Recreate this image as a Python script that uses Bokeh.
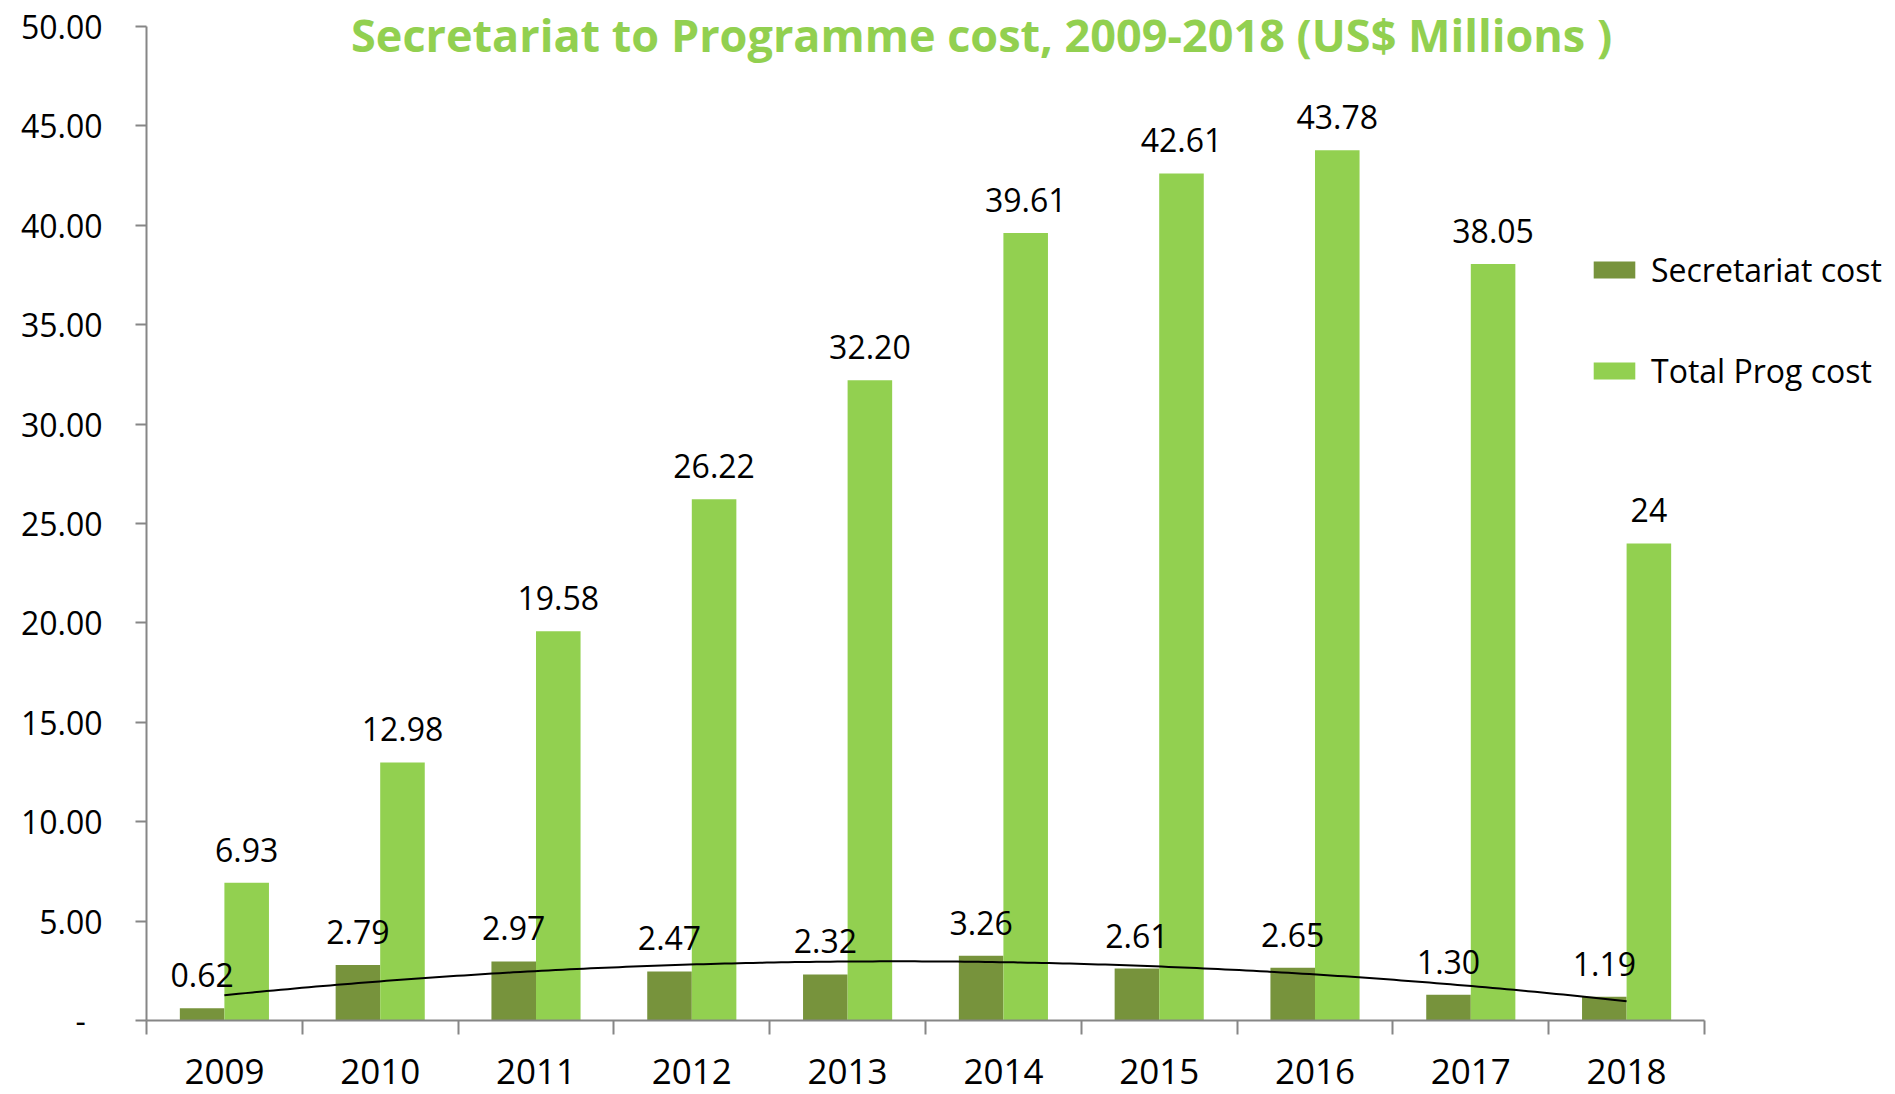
import numpy as np
from bokeh.plotting import figure
from bokeh.models import (Range1d, FixedTicker, Legend, LegendItem, Label)
from bokeh.core.properties import value
from bokeh.embed import file_html
from bokeh.resources import INLINE

years = ["2009", "2010", "2011", "2012", "2013", "2014", "2015", "2016", "2017", "2018"]
secretariat = [0.62, 2.79, 2.97, 2.47, 2.32, 3.26, 2.61, 2.65, 1.30, 1.19]
total_prog = [6.93, 12.98, 19.58, 26.22, 32.20, 39.61, 42.61, 43.78, 38.05, 24.00]
secretariat_labels = ["0.62", "2.79", "2.97", "2.47", "2.32", "3.26", "2.61", "2.65", "1.30", "1.19"]
total_labels = ["6.93", "12.98", "19.58", "26.22", "32.20", "39.61", "42.61", "43.78", "38.05", "24"]
y_ticks = [0, 5, 10, 15, 20, 25, 30, 35, 40, 45, 50]
Y_MAX = 50

SEC_COLOR = "#77933C"
TOT_COLOR = "#92D050"
AXIS_COLOR = "#868686"
FONT = "Open Sans"
W = 0.286

n = len(years)
idx = np.arange(n)

WIDTH, HEIGHT = 1890, 1092
LEFT, BOTTOM = 146, 72
AXIS_RIGHT_PX = 1704          # where the category axis ends
AXIS_TOP_PX = 26              # where the value axis ends
FRAME_BOTTOM_PX = HEIGHT - BOTTOM
# frame spans the whole canvas to the right and top, so the legend and title are not clipped
x_end = -0.5 + n * (WIDTH - LEFT) / (AXIS_RIGHT_PX - LEFT)
y_end = Y_MAX * FRAME_BOTTOM_PX / (FRAME_BOTTOM_PX - AXIS_TOP_PX)

p = figure(width=WIDTH, height=HEIGHT, output_backend="svg", toolbar_location=None,
           x_range=Range1d(-0.5, x_end), y_range=Range1d(0, y_end),
           min_border_left=LEFT, min_border_right=0, min_border_top=0,
           min_border_bottom=BOTTOM)
p.outline_line_color = None
p.xgrid.visible = False
p.ygrid.visible = False

r_sec = p.vbar(x=idx - W / 2, top=secretariat, width=W, fill_color=SEC_COLOR, line_color=None)
r_tot = p.vbar(x=idx + W / 2, top=total_prog, width=W, fill_color=TOT_COLOR, line_color=None)

# polynomial (order 2) trendline of the secretariat cost
coef = np.polyfit(idx, secretariat, 2)
xs = np.linspace(0, n - 1, 200)
p.line(xs, np.polyval(coef, xs), line_color="black", line_width=2)

p.text(x=idx - W / 2, y=secretariat, text=secretariat_labels, text_align="center",
       text_baseline="alphabetic", y_offset=-33, text_font=value(FONT),
       text_font_size="32px", text_color="black")
p.text(x=idx + W / 2, y=total_prog, text=total_labels, text_align="center",
       text_baseline="alphabetic", y_offset=-33, text_font=value(FONT),
       text_font_size="32px", text_color="black")

# x axis: labels at centres, ticks at category boundaries
xa = p.xaxis[0]
xa.bounds = (-0.5, n - 0.5)
xa.ticker = FixedTicker(ticks=list(idx), minor_ticks=[i - 0.5 for i in range(n + 1)])
xa.major_label_overrides = {int(i): y for i, y in zip(idx, years)}
xa.major_tick_out = 0
xa.major_tick_in = 0
xa.minor_tick_out = 14
xa.minor_tick_in = 0
xa.minor_tick_line_color = AXIS_COLOR
xa.minor_tick_line_width = 2
xa.axis_line_color = AXIS_COLOR
xa.axis_line_width = 2
xa.major_label_text_font = FONT
xa.major_label_text_font_size = "35px"
xa.major_label_text_color = "black"
xa.major_label_standoff = 24

ya = p.yaxis[0]
ya.bounds = (0, Y_MAX)
ya.ticker = FixedTicker(ticks=y_ticks)
ya.major_label_overrides = {t: ("-\u00a0\u00a0" if t == 0 else f"{t:.2f}") for t in y_ticks}
ya.major_tick_out = 11
ya.major_tick_in = 0
ya.minor_tick_line_color = None
ya.major_tick_line_color = AXIS_COLOR
ya.major_tick_line_width = 2
ya.axis_line_color = AXIS_COLOR
ya.axis_line_width = 2
ya.major_label_text_font = FONT
ya.major_label_text_font_size = "32px"
ya.major_label_text_color = "black"
ya.major_label_standoff = 33

legend = Legend(items=[LegendItem(label="Secretariat cost", renderers=[r_sec]),
                       LegendItem(label="Total Prog cost", renderers=[r_tot])],
                location=(1442, 628), orientation="vertical",
                glyph_width=52, glyph_height=21, spacing=58, padding=0, margin=0,
                label_standoff=11, label_text_font=FONT, label_text_font_size="32px",
                label_text_color="black", background_fill_alpha=0, border_line_color=None)
p.add_layout(legend)

title = Label(x=4.86, y=Y_MAX, text="Secretariat to Programme cost, 2009-2018 (US$ Millions )",
              text_align="center", text_baseline="alphabetic", y_offset=-8,
              text_font=FONT, text_font_style="bold", text_font_size="45px",
              text_color=TOT_COLOR)
p.add_layout(title)

open("out.html", "w").write(file_html(p, INLINE))
